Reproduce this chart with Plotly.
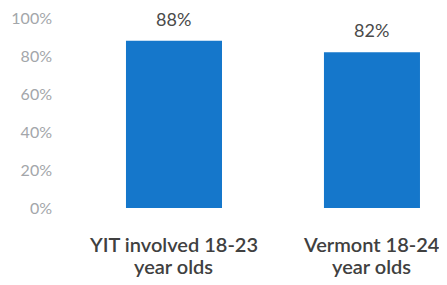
import plotly.graph_objects as go

categories = ["YIT involved 18-23 year olds", "Vermont 18-24 year olds"]
cat_line1 = ["YIT involved 18-23", "Vermont 18-24"]
cat_line2 = ["year olds", "year olds"]
values = [0.88, 0.82]
value_labels = ["88%", "82%"]
y_ticks = [0, 0.2, 0.4, 0.6, 0.8, 1.0]
y_tick_labels = ["0%", "20%", "40%", "60%", "80%", "100%"]

FONT = "Lato"

fig = go.Figure()
fig.add_trace(go.Bar(
    x=[0, 1], y=values,
    width=0.485,
    marker=dict(color="#1577CB", line=dict(width=0)),
    hoverinfo="skip",
))

for i in range(len(categories)):
    fig.add_annotation(x=i, y=values[i], yref="y", text=value_labels[i], showarrow=False,
                       font=dict(family=FONT, size=18, color="#4a4a4a"),
                       xanchor="center", yanchor="bottom", yshift=9)
    fig.add_annotation(x=i, y=-0.189, yref="paper", text=cat_line1[i], showarrow=False,
                       font=dict(family=FONT, size=20, color="#404040", weight=600),
                       xanchor="center", yanchor="middle")
    fig.add_annotation(x=i, y=-0.307, yref="paper", text=cat_line2[i], showarrow=False,
                       font=dict(family=FONT, size=20, color="#404040", weight=600),
                       xanchor="center", yanchor="middle")

fig.update_layout(
    width=439, height=277,
    margin=dict(l=67, r=0, t=10, b=77, pad=0),
    paper_bgcolor="white", plot_bgcolor="white",
    showlegend=False,
    xaxis=dict(range=[-0.5, 1.379], showticklabels=False, showgrid=False,
               zeroline=False, showline=False, ticks="", automargin=False),
    yaxis=dict(range=[0, 1.0], tickvals=y_ticks, ticktext=y_tick_labels,
               showgrid=False, zeroline=False, showline=False, ticks="",
               ticklabelstandoff=22, automargin=False, ticklabeloverflow="allow",
               tickfont=dict(family=FONT, size=16, color="#a3a6aa")),
)

fig.write_html("out.html")
